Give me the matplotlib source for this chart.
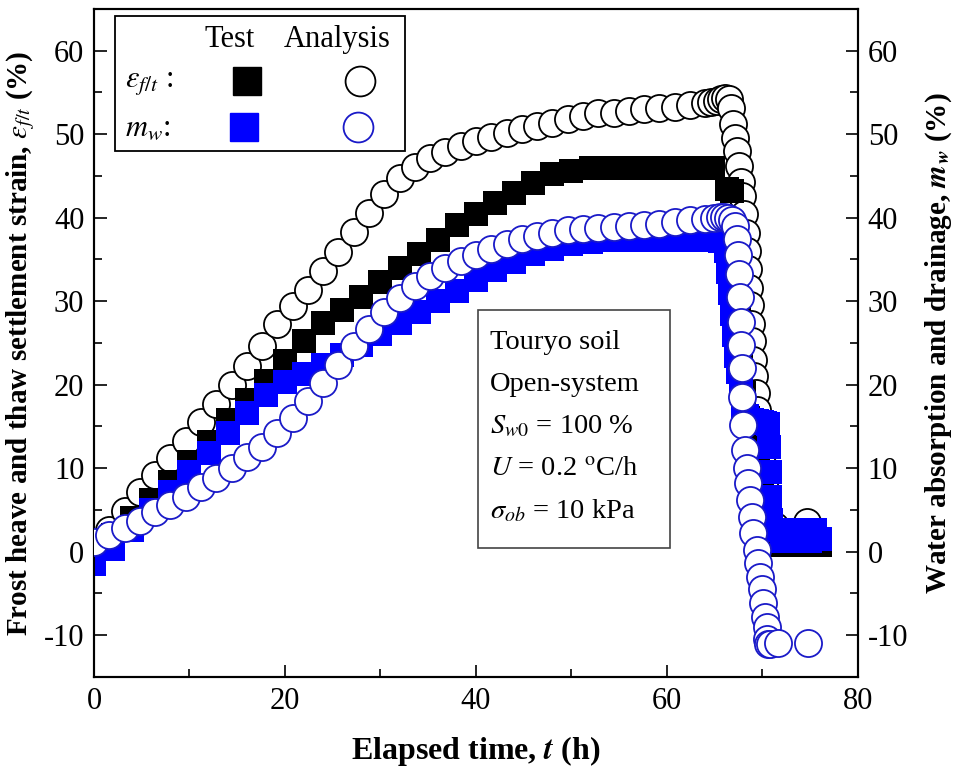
import matplotlib
matplotlib.use("Agg")
import matplotlib.pyplot as plt
from matplotlib.patches import Rectangle
from matplotlib.ticker import MultipleLocator

plt.rcParams['font.family'] = ['Liberation Serif', 'DejaVu Serif']
plt.rcParams['mathtext.fontset'] = 'stix'
plt.rcParams['axes.unicode_minus'] = False

# Test: frost heave / thaw settlement strain (black squares)
t_eps_test = [0, 2, 4, 6, 8, 10, 12, 14, 16, 18, 20, 22, 24, 26, 28, 30, 32,
              34, 36, 38, 40, 42, 44, 46, 48, 50, 52, 54, 56, 58, 60, 62, 64,
              64.8, 66.3, 66.8, 67.1, 67.3, 67.5, 67.8, 68.1, 68.5, 69.0, 69.5,
              70.0, 70.3, 70.6, 71.0, 72, 73, 74, 75, 76]
eps_test = [0.0, 2.0, 4.0, 6.2, 8.4, 10.8, 13.1, 15.8, 18.2, 20.5, 22.9, 25.2,
            27.4, 28.9, 30.5, 32.3, 34.0, 35.7, 37.3, 39.1, 40.5, 41.8, 43.0,
            44.2, 45.2, 45.6, 45.9, 46.0, 46.0, 46.0, 46.0, 46.0, 46.0,
            46.0, 43.4, 43.2, 38.0, 33.0, 28.0, 23.0, 19.0, 16.0, 14.0, 12.0,
            9.0, 5.0, 2.0, 0.8, 0.8, 0.8, 0.8, 0.8, 0.8]

# Test: water absorption / drainage (blue squares)
t_mw_test = [0, 2, 4, 6, 8, 10, 12, 14, 16, 18, 20, 22, 24, 26, 28, 30, 32,
             34, 36, 38, 40, 42, 44, 46, 48, 50, 52, 54, 56, 58, 60, 62, 64,
             64.8, 65.6, 66.2, 66.4, 66.6, 66.8, 67.0, 67.2, 67.4, 67.7, 68.0,
             68.4, 68.9, 69.4, 69.9, 70.3, 70.6, 70.7, 70.8, 70.8, 70.9, 71.4,
             72.0, 72.5, 73.0, 73.5, 74.0, 74.5, 75.0, 75.5, 76.0]
mw_test = [-1.5, 0.3, 2.6, 5.0, 7.2, 9.5, 11.8, 14.2, 16.6, 18.8, 20.3, 21.3,
           22.4, 23.6, 24.8, 26.1, 27.4, 28.7, 30.0, 31.2, 32.6, 33.7, 34.7,
           35.6, 36.3, 36.8, 37.1, 37.3, 37.3, 37.3, 37.3, 37.3, 37.3,
           37.3, 37.2, 36.0, 33.5, 31.0, 28.5, 26.0, 23.5, 21.5, 19.5, 17.5,
           16.2, 15.8, 15.6, 15.5, 15.4, 15.3, 12.5, 9.5, 6.5, 3.8, 2.6,
           1.3, 2.6, 1.3, 2.6, 1.3, 2.6, 1.3, 2.6, 1.5]

# Analysis: strain (black open circles)
t_eps_ana = [0, 1.6, 3.2, 4.8, 6.4, 8.0, 9.6, 11.2, 12.8, 14.4, 16.0, 17.6,
             19.2, 20.8, 22.4, 24.0, 25.6, 27.2, 28.8, 30.4, 32.0, 33.6, 35.2,
             36.8, 38.4, 40.0, 41.6, 43.2, 44.8, 46.4, 48.0, 49.6, 51.2, 52.8,
             54.4, 56.0, 57.6, 59.2, 60.8, 62.4, 64.0,
             64.6, 65.2, 65.7, 66.1, 66.5, 66.7, 66.9, 67.1, 67.3, 67.5, 67.7,
             67.9, 68.1, 68.3, 68.4, 68.5, 68.6, 68.7, 68.8, 68.9, 69.0, 69.1,
             69.3, 69.4, 69.6, 69.8, 70.0, 70.2, 70.4, 70.6, 70.9, 71.3, 74.7]
eps_ana = [0.3, 2.6, 4.9, 7.1, 9.2, 11.2, 13.3, 15.5, 17.7, 20.0, 22.3, 24.6,
           27.3, 29.4, 31.4, 33.6, 35.9, 38.3, 40.6, 42.8, 44.7, 46.1, 47.1,
           47.9, 48.6, 49.2, 49.7, 50.2, 50.6, 51.0, 51.4, 51.8, 52.2, 52.5,
           52.6, 52.8, 53.0, 53.2, 53.3, 53.5, 53.7,
           53.8, 54.0, 54.2, 54.3, 54.2, 53.2, 51.2, 49.6, 48.0, 46.2, 44.3,
           42.6, 40.5, 38.2, 36.0, 33.8, 31.6, 29.5, 27.3, 25.2, 23.0, 21.0,
           19.0, 17.0, 15.0, 12.8, 10.5, 8.2, 6.2, 4.6, 3.5, 3.1, 3.6]

# Analysis: water content change (blue open circles)
t_mw_ana = [0, 1.6, 3.2, 4.8, 6.4, 8.0, 9.6, 11.2, 12.8, 14.4, 16.0, 17.6,
            19.2, 20.8, 22.4, 24.0, 25.6, 27.2, 28.8, 30.4, 32.0, 33.6, 35.2,
            36.8, 38.4, 40.0, 41.6, 43.2, 44.8, 46.4, 48.0, 49.6, 51.2, 52.8,
            54.4, 56.0, 57.6, 59.2, 60.8, 62.4, 64.0,
            64.9, 65.5, 66.0, 66.4, 66.8, 67.1, 67.3, 67.4, 67.5, 67.6, 67.7,
            67.8, 67.85, 67.9, 68.0, 68.2, 68.4, 68.5, 68.7, 68.9, 69.0, 69.4,
            69.5, 69.7, 70.0, 70.05, 70.3, 70.5, 70.5, 70.6, 70.8, 71.6, 74.8]
mw_ana = [1.2, 2.0, 2.9, 3.7, 4.7, 5.6, 6.6, 7.7, 8.8, 10.0, 11.3, 12.6,
          14.2, 16.0, 18.0, 20.2, 22.4, 24.6, 26.7, 28.7, 30.4, 31.8, 33.0,
          34.0, 34.8, 35.5, 36.2, 36.9, 37.4, 37.8, 38.2, 38.5, 38.7, 38.8,
          38.9, 39.0, 39.1, 39.3, 39.5, 39.7, 39.9,
          40.0, 40.1, 40.1, 40.0, 39.7, 39.0, 37.5, 35.5, 33.3, 30.5, 27.5,
          24.8, 22.0, 18.5, 15.2, 12.2, 10.0, 8.2, 6.2, 4.2, 2.3, 0.2,
          -1.3, -3.0, -4.5, -6.1, -7.8, -9.0, -10.5, -11.0, -11.0, -10.9, -10.9]

blue = '#0000ff'
blue_edge = '#1a1ac8'

fig = plt.figure(figsize=(9.58, 7.73), dpi=100)
ax = fig.add_axes([0.0981, 0.1242, 0.7975, 0.8642])

ax.plot(t_eps_ana, eps_ana, 'o', ms=19.5, mfc='white', mec='black', mew=1.3, zorder=2)
ax.plot(t_eps_test, eps_test, 's', ms=17, color='black', mew=0, zorder=3)

ax2 = ax.twinx()
ax2.plot(t_mw_test, mw_test, 's', ms=17, color=blue, mew=0, zorder=2)
ax2.plot(t_mw_ana, mw_ana, 'o', ms=19.5, mfc='white', mec=blue_edge, mew=1.3, zorder=3)

for a in (ax, ax2):
    a.set_xlim(0, 80)
    a.set_ylim(-15, 65)
    a.yaxis.set_major_locator(MultipleLocator(10))
    a.yaxis.set_minor_locator(MultipleLocator(5))
    for s in a.spines.values():
        s.set_linewidth(1.5)
ax.xaxis.set_major_locator(MultipleLocator(20))
ax.xaxis.set_minor_locator(MultipleLocator(10))
ax.tick_params(which='both', direction='in', top=False, right=False,
               labelsize=22, width=1.2)
ax.tick_params(which='major', length=9, pad=7)
ax.tick_params(which='minor', length=6)
ax2.tick_params(which='both', direction='in', labelsize=22, width=1.2)
ax2.tick_params(which='major', length=9, pad=7)
ax2.tick_params(which='minor', length=6)

ax.set_xlabel('Elapsed time, $\\mathbfit{t}$ (h)', fontsize=23, fontweight='bold')
ax.xaxis.set_label_coords(0.5, -0.085)
ax.set_ylabel('Frost heave and thaw settlement strain, $\\varepsilon_{f/t}$ (%)',
              fontsize=21, fontweight='bold')
ax.yaxis.set_label_coords(-0.074, 0.5)
ax2.set_ylabel('Water absorption and drainage, $\\mathbfit{m}_{\\mathbfit{w}}$ (%)',
               fontsize=21, fontweight='bold')
ax2.yaxis.set_label_coords(1.086, 0.5)

# legend box
tr = ax2.transAxes
ax2.add_patch(Rectangle((0.0275, 0.787), 0.38, 0.2025, transform=tr, fill=False,
                        edgecolor='black', linewidth=1.3, zorder=6))
ax2.text(0.178, 0.955, 'Test', transform=tr, fontsize=22, ha='center', va='center', zorder=7)
ax2.text(0.318, 0.955, 'Analysis', transform=tr, fontsize=22, ha='center', va='center', zorder=7)
ax2.text(0.040, 0.890, '$\\varepsilon_{f/t}$ :', transform=tr, fontsize=22, ha='left', va='center', zorder=7)
ax2.text(0.040, 0.822, '$m_w$:', transform=tr, fontsize=22, ha='left', va='center', zorder=7)
ax2.plot([0.200], [0.892], 's', ms=20, color='black', transform=tr, clip_on=False, zorder=7)
ax2.plot([0.348], [0.892], 'o', ms=21.5, mfc='white', mec='black', mew=1.3, transform=tr, clip_on=False, zorder=7)
ax2.plot([0.197], [0.823], 's', ms=20, color=blue, transform=tr, clip_on=False, zorder=7)
ax2.plot([0.346], [0.823], 'o', ms=21.5, mfc='white', mec=blue_edge, mew=1.3, transform=tr, clip_on=False, zorder=7)

# condition box
ax2.add_patch(Rectangle((0.503, 0.193), 0.251, 0.357, transform=tr, facecolor='white',
                        edgecolor='#444444', linewidth=1.2, zorder=6))
lines = ['Touryo soil', 'Open-system', '$S_{w0}$ = 100 %',
         '$U$ = 0.2 $^{\\mathrm{o}}$C/h', '$\\sigma_{ob}$ = 10 kPa']
ys = [0.501, 0.438, 0.375, 0.312, 0.248]
for s, y in zip(lines, ys):
    ax2.text(0.518, y, s, transform=tr, fontsize=20.5, ha='left', va='center', zorder=7)

fig.savefig('out.png', dpi=100)
